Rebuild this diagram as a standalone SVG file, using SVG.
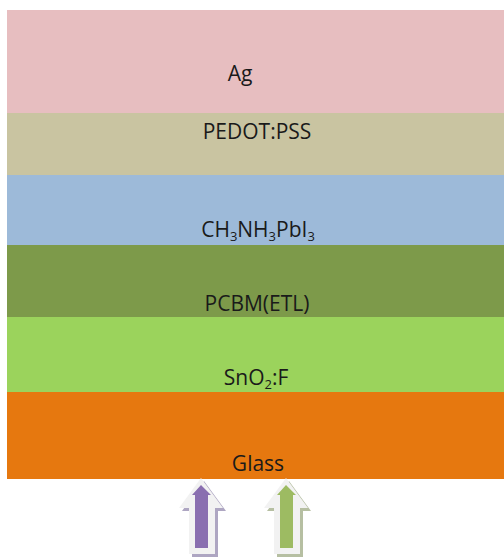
<svg xmlns="http://www.w3.org/2000/svg" width="504" height="558" viewBox="0 0 504 558">
<style>
.t{font-family:"Open Sans","Liberation Sans",sans-serif;font-size:21px;fill:#1a1a1a;text-anchor:middle}
.s{font-size:13px}
</style>
<defs>
<path id="outer" d="M0,0 L22,30 L14,30 L14,76 L-12,76 L-12,30 L-22,30 Z"/>
<path id="inner" d="M0,0 L10,10 L7,10 L7,63 L-6,63 L-6,10 L-9,10 Z"/>
</defs>
<rect width="504" height="558" fill="#ffffff"/>
<g id="ag"><rect x="7" y="10" width="497" height="103" fill="#e7bec0"/><text class="t" x="240" y="81">Ag</text></g>
<g id="pedot"><rect x="7" y="113" width="497" height="62" fill="#c9c4a1"/><text class="t" x="257" y="139">PEDOT:PSS</text></g>
<g id="perovskite"><rect x="7" y="175" width="497" height="70" fill="#9dbad9"/><text class="t" x="258" y="237">CH<tspan class="s" dy="4">3</tspan><tspan dy="-4">NH</tspan><tspan class="s" dy="4">3</tspan><tspan dy="-4">PbI</tspan><tspan class="s" dy="4">3</tspan></text></g>
<g id="pcbm"><rect x="7" y="245" width="497" height="72" fill="#7d9a4a"/><text class="t" x="257" y="311">PCBM(ETL)</text></g>
<g id="sno2"><rect x="7" y="317" width="497" height="75" fill="#9bd35c"/><text class="t" x="256" y="385">SnO<tspan class="s" dy="4">2</tspan><tspan dy="-4">:F</tspan></text></g>
<g id="glass"><rect x="7" y="392" width="497" height="87" fill="#e6780f"/><text class="t" x="258" y="471">Glass</text></g>
<g id="connectors">
<g id="arrow-purple">
<use href="#outer" transform="translate(204,481)" fill="#aea6c2"/>
<use href="#outer" transform="translate(201,478)" fill="#f2f2f2"/>
<use href="#inner" transform="translate(201,485)" fill="#8a6fb0"/>
</g>
<g id="arrow-green">
<use href="#outer" transform="translate(289,481)" fill="#b6bfa2"/>
<use href="#outer" transform="translate(286,478)" fill="#f2f2f2"/>
<use href="#inner" transform="translate(286,485)" fill="#9dbb62"/>
</g>
</g>
</svg>
